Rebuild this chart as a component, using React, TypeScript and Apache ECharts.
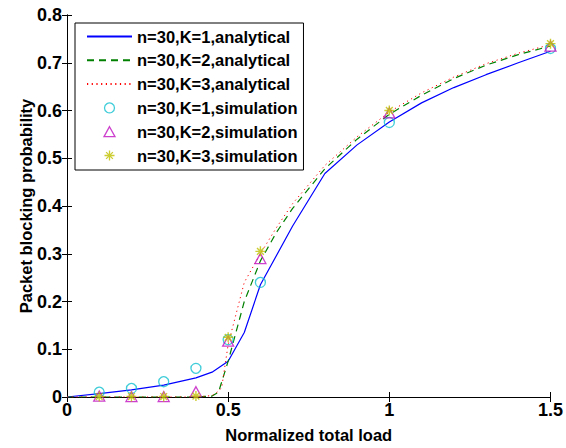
import React, { useEffect, useRef } from "react";
import * as echarts from "echarts";

// Analytical curves (x = normalized total load)
const xK1 = [0, 0.1, 0.2, 0.3, 0.4, 0.45, 0.5, 0.55, 0.6, 0.7, 0.8, 0.9, 1.0, 1.1, 1.2, 1.3, 1.4, 1.5];
const yK1 = [0, 0.007, 0.015, 0.025, 0.04, 0.052, 0.075, 0.135, 0.235, 0.358, 0.468, 0.528, 0.576, 0.616, 0.648, 0.675, 0.7, 0.724];

const xK2 = [0, 0.1, 0.2, 0.3, 0.4, 0.45, 0.47, 0.5, 0.55, 0.6, 0.65, 0.7, 0.8, 0.9, 1.0, 1.1, 1.2, 1.3, 1.4, 1.5];
const yK2 = [0, 0, 0, 0, 0, 0.002, 0.01, 0.075, 0.2, 0.285, 0.345, 0.395, 0.478, 0.54, 0.592, 0.632, 0.667, 0.695, 0.717, 0.735];

const xK3 = [0, 0.1, 0.2, 0.3, 0.4, 0.45, 0.47, 0.48, 0.5, 0.55, 0.6, 0.65, 0.7, 0.8, 0.9, 1.0, 1.1, 1.2, 1.3, 1.4, 1.5];
const yK3 = [0, 0, 0, 0, 0, 0.003, 0.012, 0.02, 0.11, 0.24, 0.3, 0.355, 0.405, 0.485, 0.545, 0.597, 0.637, 0.67, 0.698, 0.72, 0.738];

// Simulation points
const xSim = [0.1, 0.2, 0.3, 0.4, 0.5, 0.6, 1.0, 1.5];
const simK1 = [0.01, 0.018, 0.032, 0.06, 0.12, 0.24, 0.575, 0.73];
const simK2 = [0.002, 0.001, 0.001, 0.011, 0.117, 0.29, 0.595, 0.735];
const simK3 = [0.001, 0.001, 0.001, 0.002, 0.125, 0.305, 0.6, 0.74];

const xTicks = [0, 0.5, 1, 1.5];
const yTicks = [0, 0.1, 0.2, 0.3, 0.4, 0.5, 0.6, 0.7, 0.8];

const names = [
  "n=30,K=1,analytical",
  "n=30,K=2,analytical",
  "n=30,K=3,analytical",
  "n=30,K=1,simulation",
  "n=30,K=2,simulation",
  "n=30,K=3,simulation",
];

const FONT = "Arial, 'Liberation Sans', Helvetica, sans-serif";
const ASTERISK = "path://M5,0L5,10M0,5L10,5M1.6,1.6L8.4,8.4M1.6,8.4L8.4,1.6";
const TRIANGLE = "path://M5.5,0L11,10L0,10Z";

const pairs = (xs: number[], ys: number[]) => xs.map((x, i) => [x, ys[i]]);

export default function App() {
  const ref = useRef<HTMLDivElement>(null);
  useEffect(() => {
    if (!ref.current) return;
    const chart = echarts.init(ref.current, undefined, { renderer: "svg" });
    const axisLbl = { fontFamily: FONT, fontWeight: "bold" as const, fontSize: 18, color: "#000" };
    const titleStyle = { fontFamily: FONT, fontWeight: "bold" as const, fontSize: 16.5, color: "#000" };
    chart.setOption({
      animation: false,
      backgroundColor: "#fff",
      grid: { left: 67, right: 13, top: 15, bottom: 50, containLabel: false },
      xAxis: [
        {
          type: "value", min: 0, max: 1.5, interval: 0.5, position: "bottom",
          name: "Normalized total load", nameLocation: "middle", nameGap: 29,
          nameMoveOverlap: false,
          nameTextStyle: titleStyle,
          axisLine: { lineStyle: { color: "#000", width: 1 } },
          axisTick: { inside: true, length: 5, lineStyle: { color: "#000" } },
          axisLabel: { ...axisLbl, margin: 4, alignMinLabel: "center", alignMaxLabel: "center", showMaxLabel: true,
            formatter: (v: number) => (xTicks.includes(v) ? String(v) : "") },
          splitLine: { show: false },
        },
        {
          type: "value", min: 0, max: 1.5, interval: 0.5, position: "top",
          axisLine: { lineStyle: { color: "#000", width: 1 } },
          axisTick: { inside: true, length: 5, lineStyle: { color: "#000" } },
          axisLabel: { show: false }, splitLine: { show: false },
        },
      ],
      yAxis: [
        {
          type: "value", min: 0, max: 0.8, interval: 0.1, position: "left",
          name: "Packet blocking probability", nameLocation: "middle", nameGap: 33,
          nameMoveOverlap: false,
          nameTextStyle: titleStyle,
          axisLine: { show: true, lineStyle: { color: "#000", width: 1 } },
          axisTick: { show: true, inside: true, length: 5, lineStyle: { color: "#000" } },
          axisLabel: { ...axisLbl, margin: 5, formatter: (v: number) => {
            const t = yTicks.find((k) => Math.abs(k - v) < 1e-9);
            return t === undefined ? "" : t === 0 ? "0" : t.toFixed(1);
          } },
          splitLine: { show: false },
        },
        {
          type: "value", min: 0, max: 0.8, interval: 0.1, position: "right",
          axisLine: { show: true, lineStyle: { color: "#000", width: 1 } },
          axisTick: { show: true, inside: true, length: 5, lineStyle: { color: "#000" } },
          axisLabel: { show: false }, splitLine: { show: false },
        },
      ],
      legend: {
        orient: "vertical", left: 75, top: 23,
        backgroundColor: "#fff", borderColor: "#000", borderWidth: 1,
        padding: [5, 6, 6, 11], itemWidth: 45, itemHeight: 10, itemGap: 6.8,
        itemStyle: { borderWidth: 1.3 },
        symbolKeepAspect: true,
        textStyle: { fontFamily: FONT, fontWeight: "bold", fontSize: 16.5, color: "#000" },
        data: [
          { name: names[0], itemStyle: { opacity: 0 } },
          { name: names[1], itemStyle: { opacity: 0 } },
          { name: names[2], itemStyle: { opacity: 0 } },
          { name: names[3] },
          { name: names[4] },
          { name: names[5] },
        ],
      },
      series: [
        { name: names[0], type: "line", data: pairs(xK1, yK1), symbol: "none", lineStyle: { color: "#0000FF", width: 1.2 }, itemStyle: { color: "#0000FF" }, z: 2 },
        { name: names[1], type: "line", data: pairs(xK2, yK2), symbol: "none", lineStyle: { color: "#008000", width: 1.2, type: [7, 5] }, itemStyle: { color: "#008000" }, z: 2 },
        { name: names[2], type: "line", data: pairs(xK3, yK3), symbol: "none", lineStyle: { color: "#FF0000", width: 1, type: [1.2, 3.5] }, itemStyle: { color: "#FF0000" }, z: 2 },
        { name: names[3], type: "scatter", data: pairs(xSim, simK1), symbol: "circle", symbolSize: 10, itemStyle: { color: "none", borderColor: "#10C0D0", borderWidth: 1.3 }, z: 3 },
        { name: names[4], type: "scatter", data: pairs(xSim, simK2), symbol: TRIANGLE, symbolSize: [11, 10], itemStyle: { color: "none", borderColor: "#C010C0", borderWidth: 1.3 }, z: 4 },
        { name: names[5], type: "scatter", data: pairs(xSim, simK3), symbol: ASTERISK, symbolSize: 10, itemStyle: { color: "none", borderColor: "#BFBF00", borderWidth: 1.4 }, z: 5 },
      ],
    });
    return () => chart.dispose();
  }, []);
  return <div ref={ref} style={{ position: "fixed", left: 0, top: 0, width: 566, height: 448 }} />;
}
